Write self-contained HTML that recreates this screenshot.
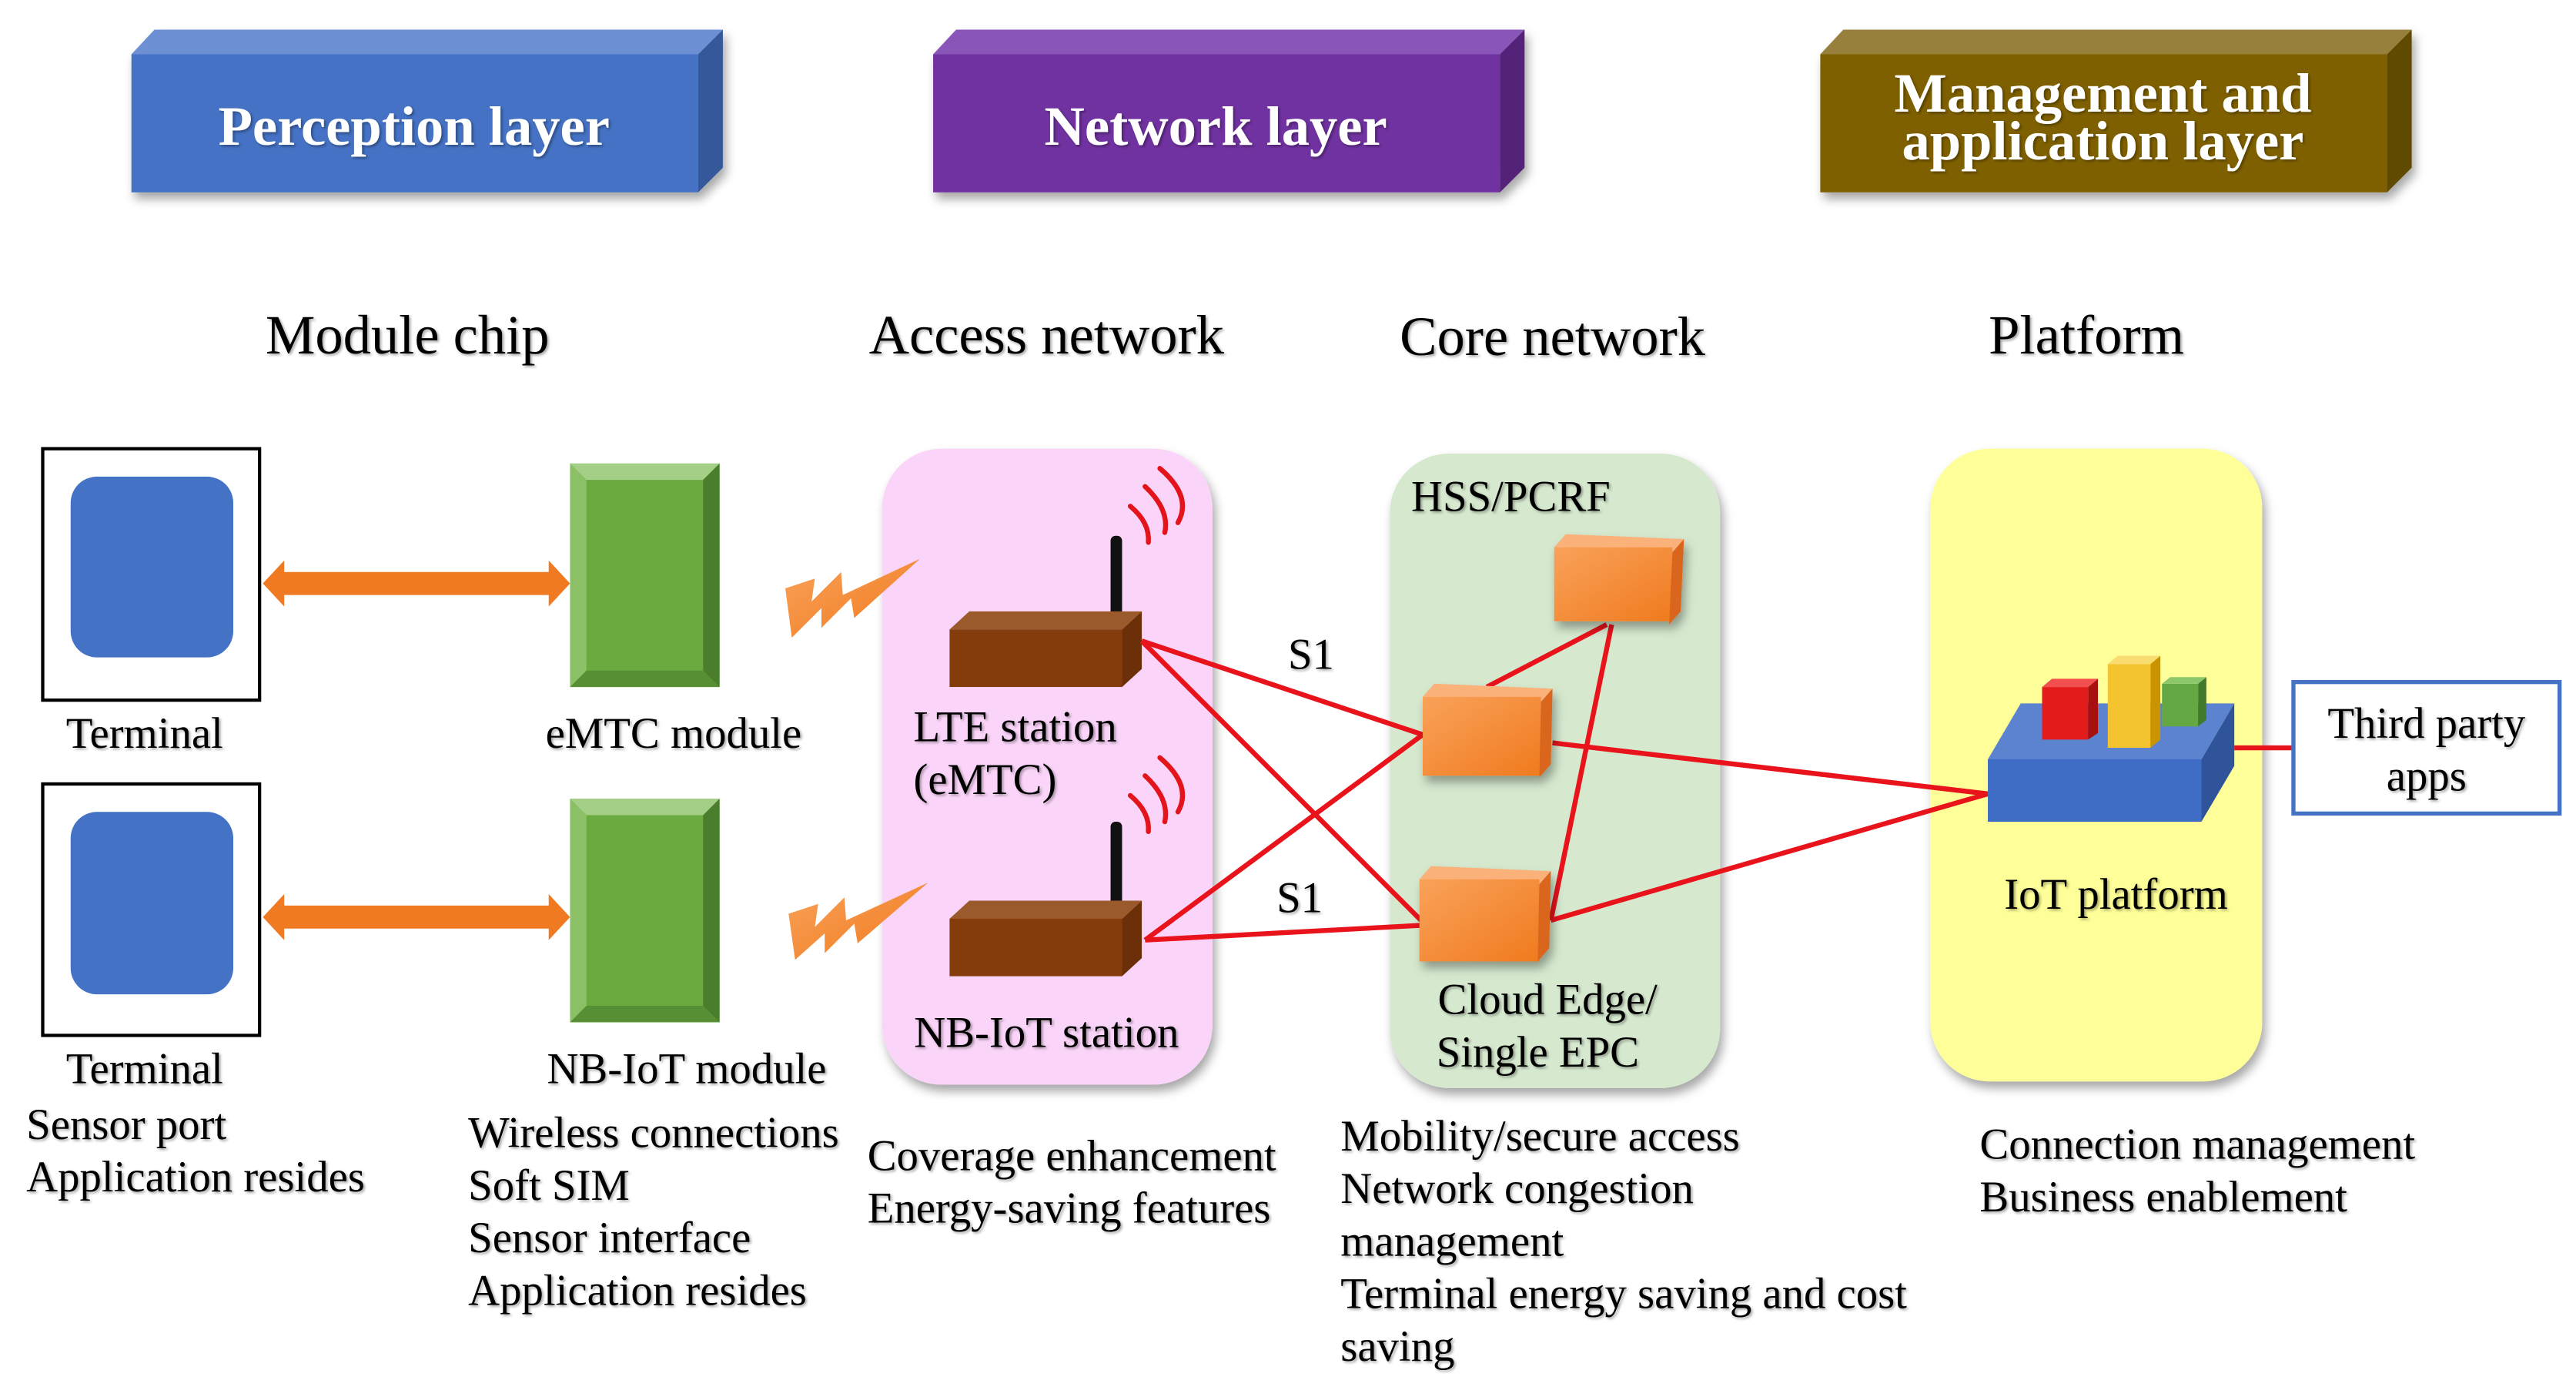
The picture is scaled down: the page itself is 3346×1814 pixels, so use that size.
<!DOCTYPE html>
<html><head><meta charset="utf-8"><style>
html,body{margin:0;padding:0;background:#fff;}
svg{display:block;}
text{font-family:"Liberation Serif",serif;fill:#000;}
.t{font-size:26.6px;}
.h{font-size:34px;}
.w{fill:#fff;font-weight:bold;font-size:34px;}
</style></head><body>
<svg width="3346" height="1814" viewBox="0 0 1568 850" xmlns="http://www.w3.org/2000/svg">
<defs>
<filter id="sh" x="-10%" y="-10%" width="130%" height="140%"><feDropShadow dx="2" dy="4" stdDeviation="3" flood-opacity="0.35"/></filter>
<filter id="ts"><feDropShadow dx="1" dy="1" stdDeviation="0.8" flood-opacity="0.35"/></filter>
<linearGradient id="og" x1="0" y1="0" x2="1" y2="1"><stop offset="0" stop-color="#f9a25a"/><stop offset="1" stop-color="#f07a1e"/></linearGradient>
</defs>

<g filter="url(#sh)">
<polygon points="80,33 94,18 440,18 425,33" fill="#6d8fd4"/>
<rect x="80" y="33" width="345" height="84" fill="#4472c4"/>
<polygon points="425,33 440,18 440,102 425,117" fill="#35589a"/>
<polygon points="568,33 582,18 928,18 913,33" fill="#8a55b8"/>
<rect x="568" y="33" width="345" height="84" fill="#7030a0"/>
<polygon points="913,33 928,18 928,102 913,117" fill="#55247a"/>
<polygon points="1108,33 1122,18 1468,18 1453,33" fill="#97803a"/>
<rect x="1108" y="33" width="345" height="84" fill="#7f6000"/>
<polygon points="1453,33 1468,18 1468,102 1453,117" fill="#614900"/>
</g>
<g filter="url(#ts)">
<text class="w" x="252" y="88" text-anchor="middle">Perception layer</text>
<text class="w" x="740" y="88" text-anchor="middle">Network layer</text>
<text class="w" x="1280" y="68" text-anchor="middle">Management and</text>
<text class="w" x="1280" y="97" text-anchor="middle">application layer</text>
</g>

<g filter="url(#ts)">
<text class="h" x="248" y="215" text-anchor="middle">Module chip</text>
<text class="h" x="637" y="215" text-anchor="middle">Access network</text>
<text class="h" x="945" y="216" text-anchor="middle">Core network</text>
<text class="h" x="1270" y="215" text-anchor="middle">Platform</text>
</g>

<rect x="537" y="273" width="201" height="387" rx="36" fill="#fbd5f9" filter="url(#sh)"/>
<rect x="846" y="276" width="201" height="386" rx="36" fill="#d6e9cf" filter="url(#sh)"/>
<rect x="1175" y="273" width="202" height="385" rx="36" fill="#ffff99" filter="url(#sh)"/>

<rect x="26" y="273" width="132" height="153" fill="#fff" stroke="#000" stroke-width="2"/>
<rect x="43" y="290" width="99" height="110" rx="16" fill="#4472c4"/>
<rect x="26" y="477" width="132" height="153" fill="#fff" stroke="#000" stroke-width="2"/>
<rect x="43" y="494" width="99" height="111" rx="16" fill="#4472c4"/>

<g fill="#f07a22">
<polygon points="160,355 173,341 173,348 334,348 334,341 347,355 334,369 334,362 173,362 173,369"/>
<polygon points="160,558 173,544 173,551 334,551 334,544 347,558 334,572 334,565 173,565 173,572"/>
</g>

<g>
<rect x="347" y="282" width="91" height="136" fill="#6aaa3e"/>
<polygon points="347,282 438,282 428,292 357,292" fill="#a3cf86"/>
<polygon points="347,282 357,292 357,408 347,418" fill="#8cc066"/>
<polygon points="438,282 438,418 428,408 428,292" fill="#4a7d2c"/>
<polygon points="347,418 357,408 428,408 438,418" fill="#578f34"/>
<rect x="347" y="486" width="91" height="136" fill="#6aaa3e"/>
<polygon points="347,486 438,486 428,496 357,496" fill="#a3cf86"/>
<polygon points="347,486 357,496 357,612 347,622" fill="#8cc066"/>
<polygon points="438,486 438,622 428,612 428,496" fill="#4a7d2c"/>
<polygon points="347,622 357,612 428,612 438,622" fill="#578f34"/>
</g>

<g fill="url(#og)">
<polygon points="478,358 496,352 494,366 512,348 513,362 560,340 520,376 518,364 500,382 500,370 482,388"/>
<polygon points="480,556 498,550 496,564 514,546 515,560 565,537 522,574 520,562 502,580 502,568 484,584"/>
</g>

<g>
<rect x="676" y="326" width="7" height="52" rx="3" fill="#111"/>
<polygon points="578,383 590,372 695,372 683,383" fill="#9a5a2c"/>
<rect x="578" y="383" width="105" height="35" fill="#843c0c"/>
<polygon points="683,383 695,372 695,407 683,418" fill="#6b300a"/>
<rect x="676" y="500" width="7" height="52" rx="3" fill="#111"/>
<polygon points="578,559 590,548 695,548 683,559" fill="#9a5a2c"/>
<rect x="578" y="559" width="105" height="35" fill="#843c0c"/>
<polygon points="683,559 695,548 695,583 683,594" fill="#6b300a"/>
</g>
<g fill="none" stroke="#e3141b" stroke-width="3" stroke-linecap="round">
<path d="M688,308 Q700,318 699,330"/>
<path d="M697,296 Q712,310 709,324"/>
<path d="M706,285 Q726,302 717,318"/>
<path d="M688,484 Q700,494 699,506"/>
<path d="M697,472 Q712,486 709,500"/>
<path d="M706,461 Q726,478 717,494"/>
</g>

<g stroke="#e8131b" stroke-width="3" fill="none">
<line x1="695" y1="390" x2="866" y2="447"/>
<line x1="695" y1="390" x2="866" y2="561"/>
<line x1="697" y1="572" x2="866" y2="447"/>
<line x1="697" y1="572" x2="866" y2="563"/>
<line x1="905" y1="418" x2="978" y2="380"/>
<line x1="944" y1="560" x2="981" y2="380"/>
<line x1="945" y1="452" x2="1210" y2="483"/>
<line x1="944" y1="560" x2="1210" y2="483"/>
<line x1="1360" y1="455" x2="1396" y2="455"/>
</g>

<g filter="url(#sh)">
<polygon points="946,333 953,325 1025,328 1018,336" fill="#fbb27a"/>
<rect x="946" y="333" width="72" height="45" fill="url(#og)"/>
<polygon points="1018,336 1025,328 1023,372 1016,380" fill="#d9661a"/>
<polygon points="866,424 873,416 945,419 938,427" fill="#fbb27a"/>
<rect x="866" y="424" width="72" height="48" fill="url(#og)"/>
<polygon points="938,427 945,419 944,465 937,473" fill="#d9661a"/>
<polygon points="864,535 871,527 944,530 937,538" fill="#fbb27a"/>
<rect x="864" y="535" width="73" height="50" fill="url(#og)"/>
<polygon points="937,538 944,530 943,577 936,585" fill="#d9661a"/>
</g>

<g>
<polygon points="1210,462 1230,428 1360,428 1340,462" fill="#5b83d0"/>
<rect x="1210" y="462" width="130" height="38" fill="#3f6cc4"/>
<polygon points="1340,462 1360,428 1360,466 1340,500" fill="#2f5499"/>
<rect x="1243" y="418" width="28" height="32" fill="#e31b1b"/>
<polygon points="1271,418 1277,413 1277,446 1271,450" fill="#a81010"/>
<polygon points="1243,418 1249,413 1277,413 1271,418" fill="#f25050"/>
<rect x="1283" y="404" width="26" height="51" fill="#f4c430"/>
<polygon points="1309,404 1315,399 1315,450 1309,455" fill="#c99400"/>
<polygon points="1283,404 1289,399 1315,399 1309,404" fill="#f9dc70"/>
<rect x="1316" y="416" width="22" height="26" fill="#64a843"/>
<polygon points="1338,416 1343,412 1343,438 1338,442" fill="#417a2a"/>
<polygon points="1316,416 1321,412 1343,412 1338,416" fill="#8cc86b"/>
</g>
<rect x="1396" y="415" width="162" height="80" fill="#fff" stroke="#4472c4" stroke-width="2.5"/>

<g class="t" filter="url(#ts)">
<text x="88" y="455" text-anchor="middle">Terminal</text>
<text x="88" y="659" text-anchor="middle">Terminal</text>
<text x="16" y="693">Sensor port</text>
<text x="16" y="725">Application resides</text>
<text x="410" y="455" text-anchor="middle">eMTC module</text>
<text x="418" y="659" text-anchor="middle">NB-IoT module</text>
<text x="285" y="698">Wireless connections</text>
<text x="285" y="730">Soft SIM</text>
<text x="285" y="762">Sensor interface</text>
<text x="285" y="794">Application resides</text>
<text x="556" y="451">LTE station</text>
<text x="556" y="483">(eMTC)</text>
<text x="637" y="637" text-anchor="middle">NB-IoT station</text>
<text x="528" y="712">Coverage enhancement</text>
<text x="528" y="744">Energy-saving features</text>
<text x="784" y="407">S1</text>
<text x="777" y="555">S1</text>
<text x="859" y="311">HSS/PCRF</text>
<text x="942" y="617" text-anchor="middle">Cloud Edge/</text>
<text x="936" y="649" text-anchor="middle">Single EPC</text>
<text x="816" y="700">Mobility/secure access</text>
<text x="816" y="732">Network congestion</text>
<text x="816" y="764">management</text>
<text x="816" y="796">Terminal energy saving and cost</text>
<text x="816" y="828">saving</text>
<text x="1288" y="553" text-anchor="middle">IoT platform</text>
<text x="1477" y="449" text-anchor="middle">Third party</text>
<text x="1477" y="481" text-anchor="middle">apps</text>
<text x="1205" y="705">Connection management</text>
<text x="1205" y="737">Business enablement</text>
</g>
</svg>
</body></html>
